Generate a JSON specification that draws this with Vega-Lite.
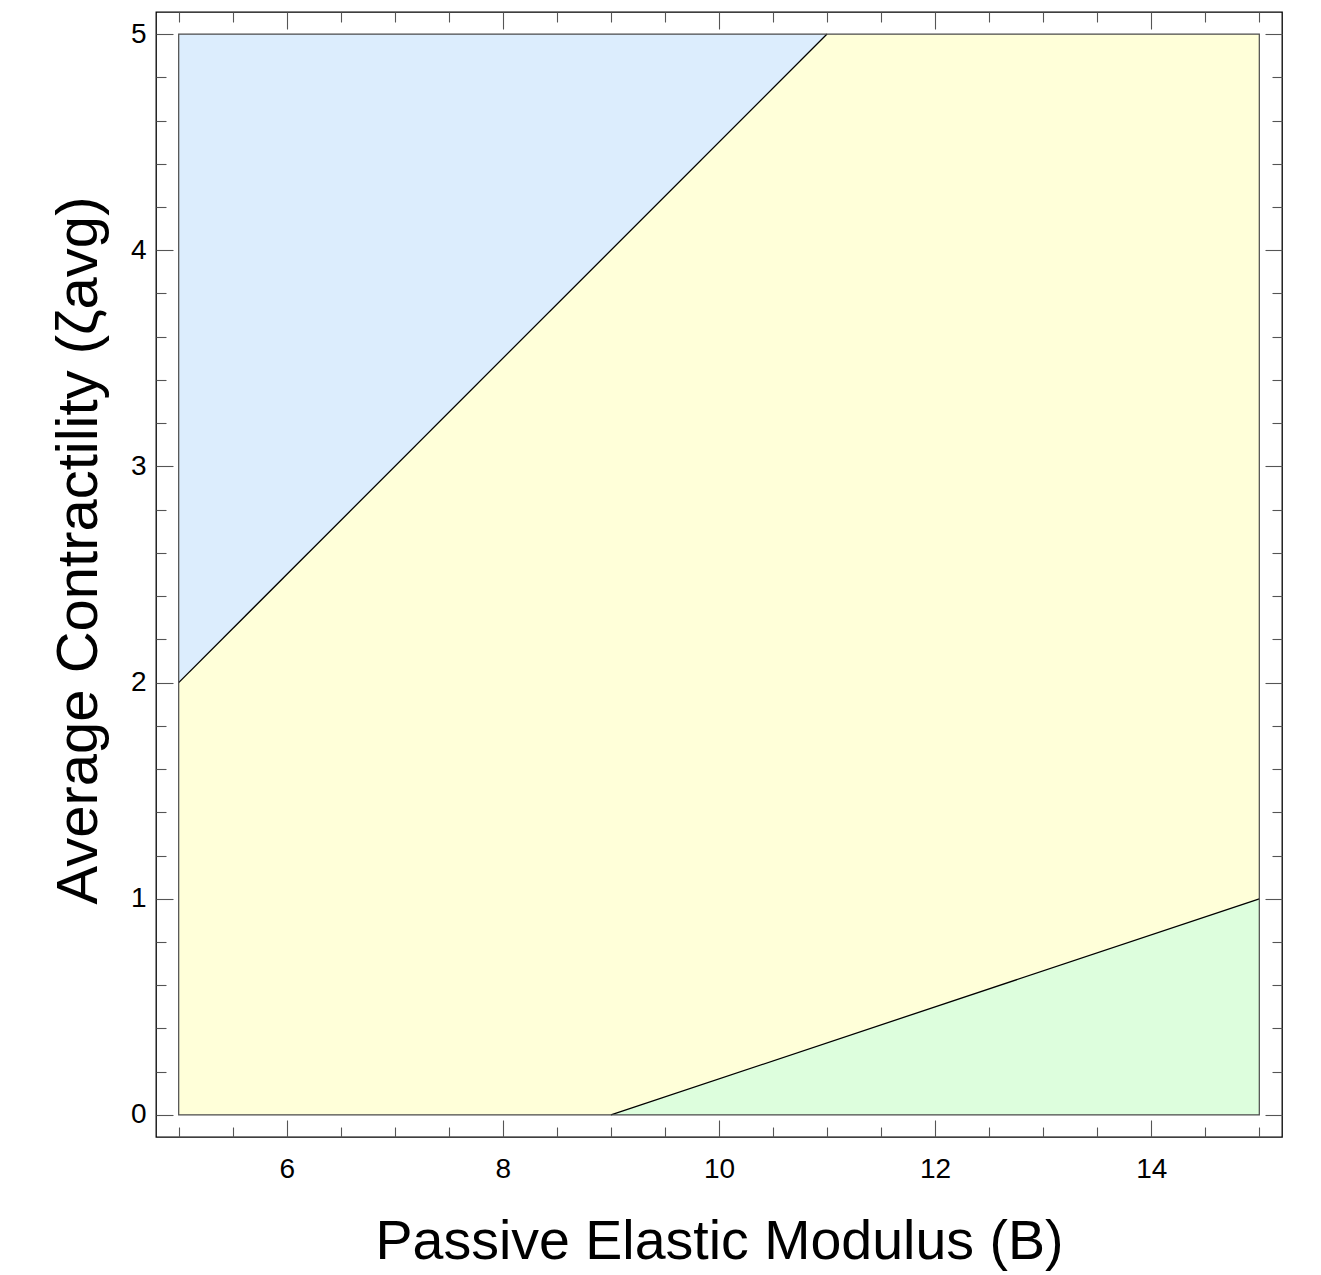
{
  "$schema": "https://vega.github.io/schema/vega-lite/v6.json",
  "autosize": {"type": "none"},
  "padding": {"left": 156, "top": 12, "right": 39, "bottom": 138},
  "width": 1126,
  "height": 1125,
  "background": "white",
  "config": {
    "view": {"stroke": "#000000", "strokeWidth": 1.3},
    "axis": {"grid": false, "domain": false, "tickColor": "#555555", "tickWidth": 1.1, "labelFont": "Liberation Sans", "titleFont": "Liberation Sans", "labelColor": "#000000", "titleColor": "#000000", "titleFontWeight": "normal"}
  },
  "datasets": {
    "plane": [{"x": 5, "x2": 15, "y": 0, "y2": 5}],
    "blue": [{"B": 5, "lo": 2, "hi": 5}, {"B": 11, "lo": 5, "hi": 5}],
    "green": [{"B": 9, "lo": 0, "hi": 0}, {"B": 15, "lo": 0, "hi": 1}],
    "bounds": [
      {"seg": "upper", "B": 5, "z": 2},
      {"seg": "upper", "B": 11, "z": 5},
      {"seg": "lower", "B": 9, "z": 0},
      {"seg": "lower", "B": 15, "z": 1}
    ]
  },
  "resolve": {"axis": {"x": "independent", "y": "independent"}},
  "layer": [
    {
      "data": {"name": "plane"},
      "mark": {"type": "rect", "fill": "#FFFFD9", "stroke": null},
      "encoding": {
        "x": {"field": "x", "type": "quantitative",
          "scale": {"domain": [4.79, 15.21], "nice": false, "zero": false},
          "axis": {"orient": "bottom", "values": [6, 8, 10, 12, 14], "tickSize": -17, "labelFontSize": 28, "labelPadding": 35,
            "title": "Passive Elastic Modulus (B)", "titleFontSize": 55.5, "titleY": 121, "titleBaseline": "alphabetic"}},
        "x2": {"field": "x2"},
        "y": {"field": "y", "type": "quantitative",
          "scale": {"domain": [-0.102, 5.102], "nice": false, "zero": false},
          "axis": {"orient": "left", "values": [0, 1, 2, 3, 4, 5], "tickSize": -17, "labelFontSize": 28, "labelPadding": 27,
            "title": "Average Contractility (ζavg)", "titleFontSize": 58, "titleX": -60, "titleY": 538, "titleAngle": -90, "titleBaseline": "alphabetic"}},
        "y2": {"field": "y2"}
      }
    },
    {
      "data": {"name": "blue"},
      "mark": {"type": "area", "fill": "#DCEDFD", "opacity": 1},
      "encoding": {
        "x": {"field": "B", "type": "quantitative",
          "scale": {"domain": [4.79, 15.21], "nice": false, "zero": false},
          "axis": {"orient": "top", "values": [6, 8, 10, 12, 14], "tickSize": -17, "labels": false, "title": null}},
        "y": {"field": "hi", "type": "quantitative",
          "scale": {"domain": [-0.102, 5.102], "nice": false, "zero": false},
          "axis": {"orient": "right", "values": [0, 1, 2, 3, 4, 5], "tickSize": -17, "labels": false, "title": null}},
        "y2": {"field": "lo"}
      }
    },
    {
      "data": {"name": "green"},
      "mark": {"type": "area", "fill": "#DDFEDD", "opacity": 1},
      "encoding": {
        "x": {"field": "B", "type": "quantitative",
          "scale": {"domain": [4.79, 15.21], "nice": false, "zero": false},
          "axis": {"orient": "bottom", "values": [5, 5.5, 6.5, 7, 7.5, 8.5, 9, 9.5, 10.5, 11, 11.5, 12.5, 13, 13.5, 14.5, 15], "tickSize": -10, "labels": false, "title": null}},
        "y": {"field": "hi", "type": "quantitative",
          "scale": {"domain": [-0.102, 5.102], "nice": false, "zero": false},
          "axis": {"orient": "left", "values": [0.2, 0.4, 0.6, 0.8, 1.2, 1.4, 1.6, 1.8, 2.2, 2.4, 2.6, 2.8, 3.2, 3.4, 3.6, 3.8, 4.2, 4.4, 4.6, 4.8], "tickSize": -10, "labels": false, "title": null}},
        "y2": {"field": "lo"}
      }
    },
    {
      "data": {"name": "bounds"},
      "mark": {"type": "line", "color": "#000000", "strokeWidth": 1.3},
      "encoding": {
        "x": {"field": "B", "type": "quantitative",
          "scale": {"domain": [4.79, 15.21], "nice": false, "zero": false},
          "axis": {"orient": "top", "values": [5, 5.5, 6.5, 7, 7.5, 8.5, 9, 9.5, 10.5, 11, 11.5, 12.5, 13, 13.5, 14.5, 15], "tickSize": -10, "labels": false, "title": null}},
        "y": {"field": "z", "type": "quantitative",
          "scale": {"domain": [-0.102, 5.102], "nice": false, "zero": false},
          "axis": {"orient": "right", "values": [0.2, 0.4, 0.6, 0.8, 1.2, 1.4, 1.6, 1.8, 2.2, 2.4, 2.6, 2.8, 3.2, 3.4, 3.6, 3.8, 4.2, 4.4, 4.6, 4.8], "tickSize": -10, "labels": false, "title": null}},
        "detail": {"field": "seg", "type": "nominal"}
      }
    },
    {
      "data": {"name": "plane"},
      "mark": {"type": "rect", "fill": null, "fillOpacity": 0, "stroke": "#4a4a4a", "strokeWidth": 1.2},
      "encoding": {
        "x": {"field": "x", "type": "quantitative", "axis": null},
        "x2": {"field": "x2"},
        "y": {"field": "y", "type": "quantitative", "axis": null},
        "y2": {"field": "y2"}
      }
    }
  ]
}
